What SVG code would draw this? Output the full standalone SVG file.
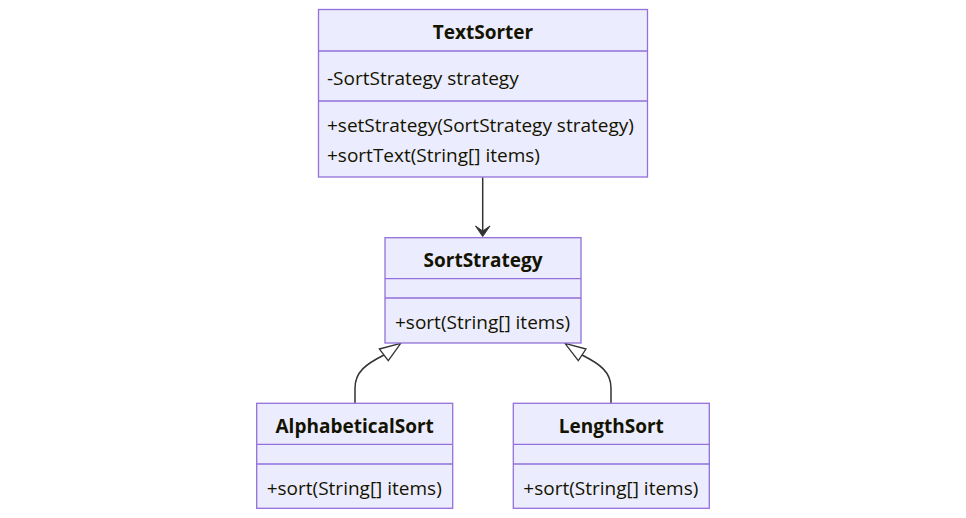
<svg xmlns="http://www.w3.org/2000/svg" width="966" height="518" viewBox="0 0 966 518">
<style>
.box{fill:#ECECFF;stroke:#9370DB;stroke-width:1.3}
.div{stroke:#9370DB;stroke-width:1.3}
.t{font-family:"Open Sans","Noto Sans",sans-serif;font-size:19px;fill:#131300}
.b{font-weight:bold;text-anchor:middle}
.e{fill:none;stroke:#333333;stroke-width:1.5}
.tri{fill:#ffffff;stroke:#333333;stroke-width:1.3}
</style>
<rect width="966" height="518" fill="#ffffff"/>
<g id="connectors">
<path class="e" d="M482.7,177.3 L482.7,233"/>
<polygon points="482.7,236.5 475.5,226 482.7,231 490,226" fill="#333333" stroke="#333333" stroke-width="1"/>
<path class="e" d="M355,403 L355,388 C355,372 366,364 384,355"/>
<polygon class="tri" points="400.7,343.3 379.3,349 388.3,360.7"/>
<path class="e" d="M611,403 L611,388 C611,372 600,364 582,355"/>
<polygon class="tri" points="565,343.3 586,349 578.3,360.7"/>
</g>
<g id="TextSorter">
<rect class="box" x="318.5" y="9.5" width="329" height="167.5"/>
<line class="div" x1="318.5" y1="51" x2="647.5" y2="51"/>
<line class="div" x1="318.5" y1="101" x2="647.5" y2="101"/>
<text class="t b" x="483" y="39">TextSorter</text>
<text class="t" x="327" y="85">-SortStrategy strategy</text>
<text class="t" x="327" y="132">+setStrategy(SortStrategy strategy)</text>
<text class="t" x="327" y="162">+sortText(String[] items)</text>
</g>
<g id="SortStrategy">
<rect class="box" x="385" y="237.7" width="196" height="105.3"/>
<line class="div" x1="385" y1="278.7" x2="581" y2="278.7"/>
<line class="div" x1="385" y1="298" x2="581" y2="298"/>
<text class="t b" x="483" y="267">SortStrategy</text>
<text class="t" x="395" y="329">+sort(String[] items)</text>
</g>
<g id="AlphabeticalSort">
<rect class="box" x="256.7" y="403.3" width="196" height="105"/>
<line class="div" x1="256.7" y1="444.3" x2="452.7" y2="444.3"/>
<line class="div" x1="256.7" y1="464" x2="452.7" y2="464"/>
<text class="t b" x="354.7" y="433">AlphabeticalSort</text>
<text class="t" x="266.7" y="495">+sort(String[] items)</text>
</g>
<g id="LengthSort">
<rect class="box" x="513.3" y="403.3" width="196" height="105"/>
<line class="div" x1="513.3" y1="444.3" x2="709.3" y2="444.3"/>
<line class="div" x1="513.3" y1="464" x2="709.3" y2="464"/>
<text class="t b" x="611.3" y="433">LengthSort</text>
<text class="t" x="523.3" y="495">+sort(String[] items)</text>
</g>
</svg>
